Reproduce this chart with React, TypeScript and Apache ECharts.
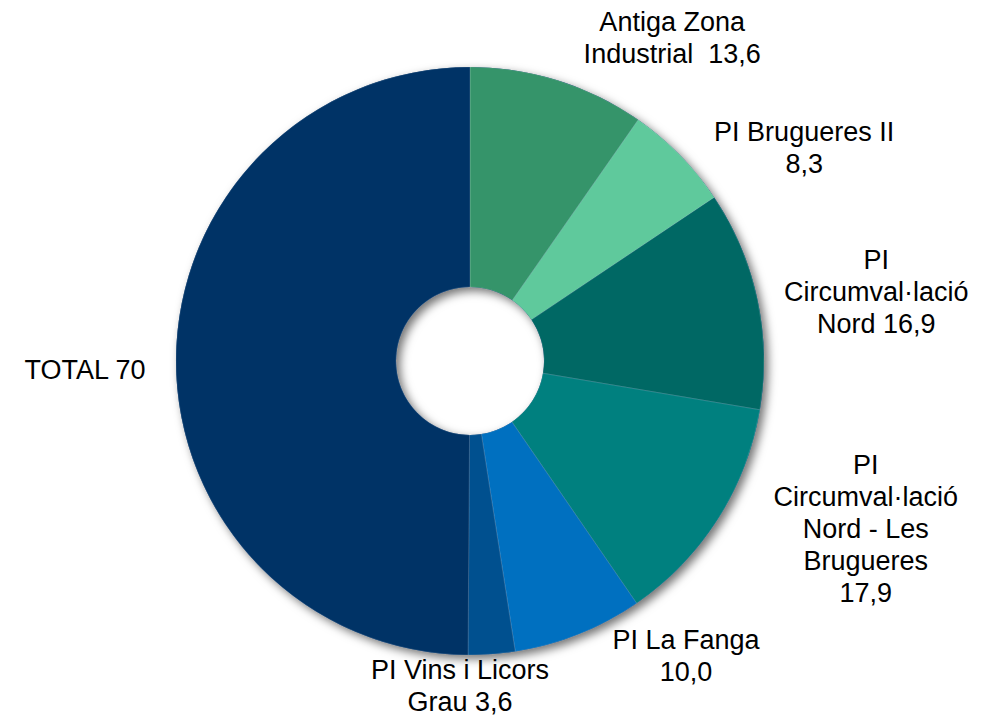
import React, { useEffect, useRef } from 'react';
import * as echarts from 'echarts';

// ---- data ----
const categories = [
  'Antiga Zona\nIndustrial',
  'PI Brugueres II',
  'PI\nCircumval·lació\nNord',
  'PI\nCircumval·lació\nNord - Les\nBrugueres',
  'PI La Fanga',
  'PI Vins i Licors\nGrau',
  'TOTAL',
];
const values = [13.6, 8.3, 16.9, 17.9, 10.0, 3.6, 70];
const valueDecimals = [1, 1, 1, 1, 1, 1, 0];
const labelSeparators = ['  ', '\n', ' ', '\n', '\n', ' ', ' '];
const colors = ['#35946a', '#5fc99c', '#006864', '#00807f', '#0070c0', '#00508f', '#003366'];

// ---- label placement: distance from centre (px) and angular shift from slice middle (deg) ----
const labelRadius = [381, 396, 412, 430, 366, 325, 385];
const labelShift = [14.6, 12, 2.5, -9.5, -14.5, 6, -1.5];

const CX = 470;
const CY = 361;
const R_IN = 74;
const R_OUT = 294;

const fmt = (v: number, d: number) => v.toFixed(d).replace('.', ',');

export default function App() {
  const ref = useRef<HTMLDivElement>(null);
  useEffect(() => {
    if (!ref.current) return;
    const chart = echarts.init(ref.current, null, { renderer: 'svg' });
    const total = values.reduce((a, b) => a + b, 0);
    const data = categories.map((name, i) => ({
      name,
      value: values[i],
      itemStyle: { color: colors[i] },
    }));
    chart.setOption({
      animation: false,
      backgroundColor: '#ffffff',
      series: [
        {
          type: 'pie',
          silent: true,
          center: [CX, CY],
          radius: [R_IN, R_OUT],
          startAngle: 90,
          z: 1,
          label: { show: false },
          labelLine: { show: false },
          itemStyle: {
            color: '#003366',
            shadowBlur: 10,
            shadowColor: 'rgba(0,0,0,0.55)',
            shadowOffsetX: 4,
            shadowOffsetY: 4,
          },
          data: [{ name: 'bg', value: total }],
        },
        {
          type: 'pie',
          center: [CX, CY],
          radius: [R_IN, R_OUT],
          startAngle: 90,
          clockwise: true,
          z: 2,
          avoidLabelOverlap: false,
          itemStyle: { borderColor: 'rgba(255,255,255,0.25)', borderWidth: 0.6 },
          label: {
            show: true,
            position: 'outside',
            color: '#000',
            fontFamily: '"Liberation Sans", Arial, sans-serif',
            fontSize: 27,
            lineHeight: 32,
            formatter: (p: any) =>
              `${p.name}${labelSeparators[p.dataIndex]}${fmt(values[p.dataIndex], valueDecimals[p.dataIndex])}`,
          },
          labelLine: { show: false },
          labelLayout: (p: any) => {
            const i = p.dataIndex;
            let start = 0;
            for (let k = 0; k < i; k++) start += values[k];
            const mid = ((start + values[i] / 2) / total) * 360;
            const a = ((mid + labelShift[i]) * Math.PI) / 180;
            return {
              x: CX + labelRadius[i] * Math.sin(a),
              y: CY - labelRadius[i] * Math.cos(a),
              align: 'center',
              verticalAlign: 'middle',
            };
          },
          emphasis: { disabled: true },
          data,
        },
      ],
    });
    return () => chart.dispose();
  }, []);
  return (
    <div
      ref={ref}
      style={{ position: 'fixed', left: 0, top: 0, width: 984, height: 719 }}
    />
  );
}
